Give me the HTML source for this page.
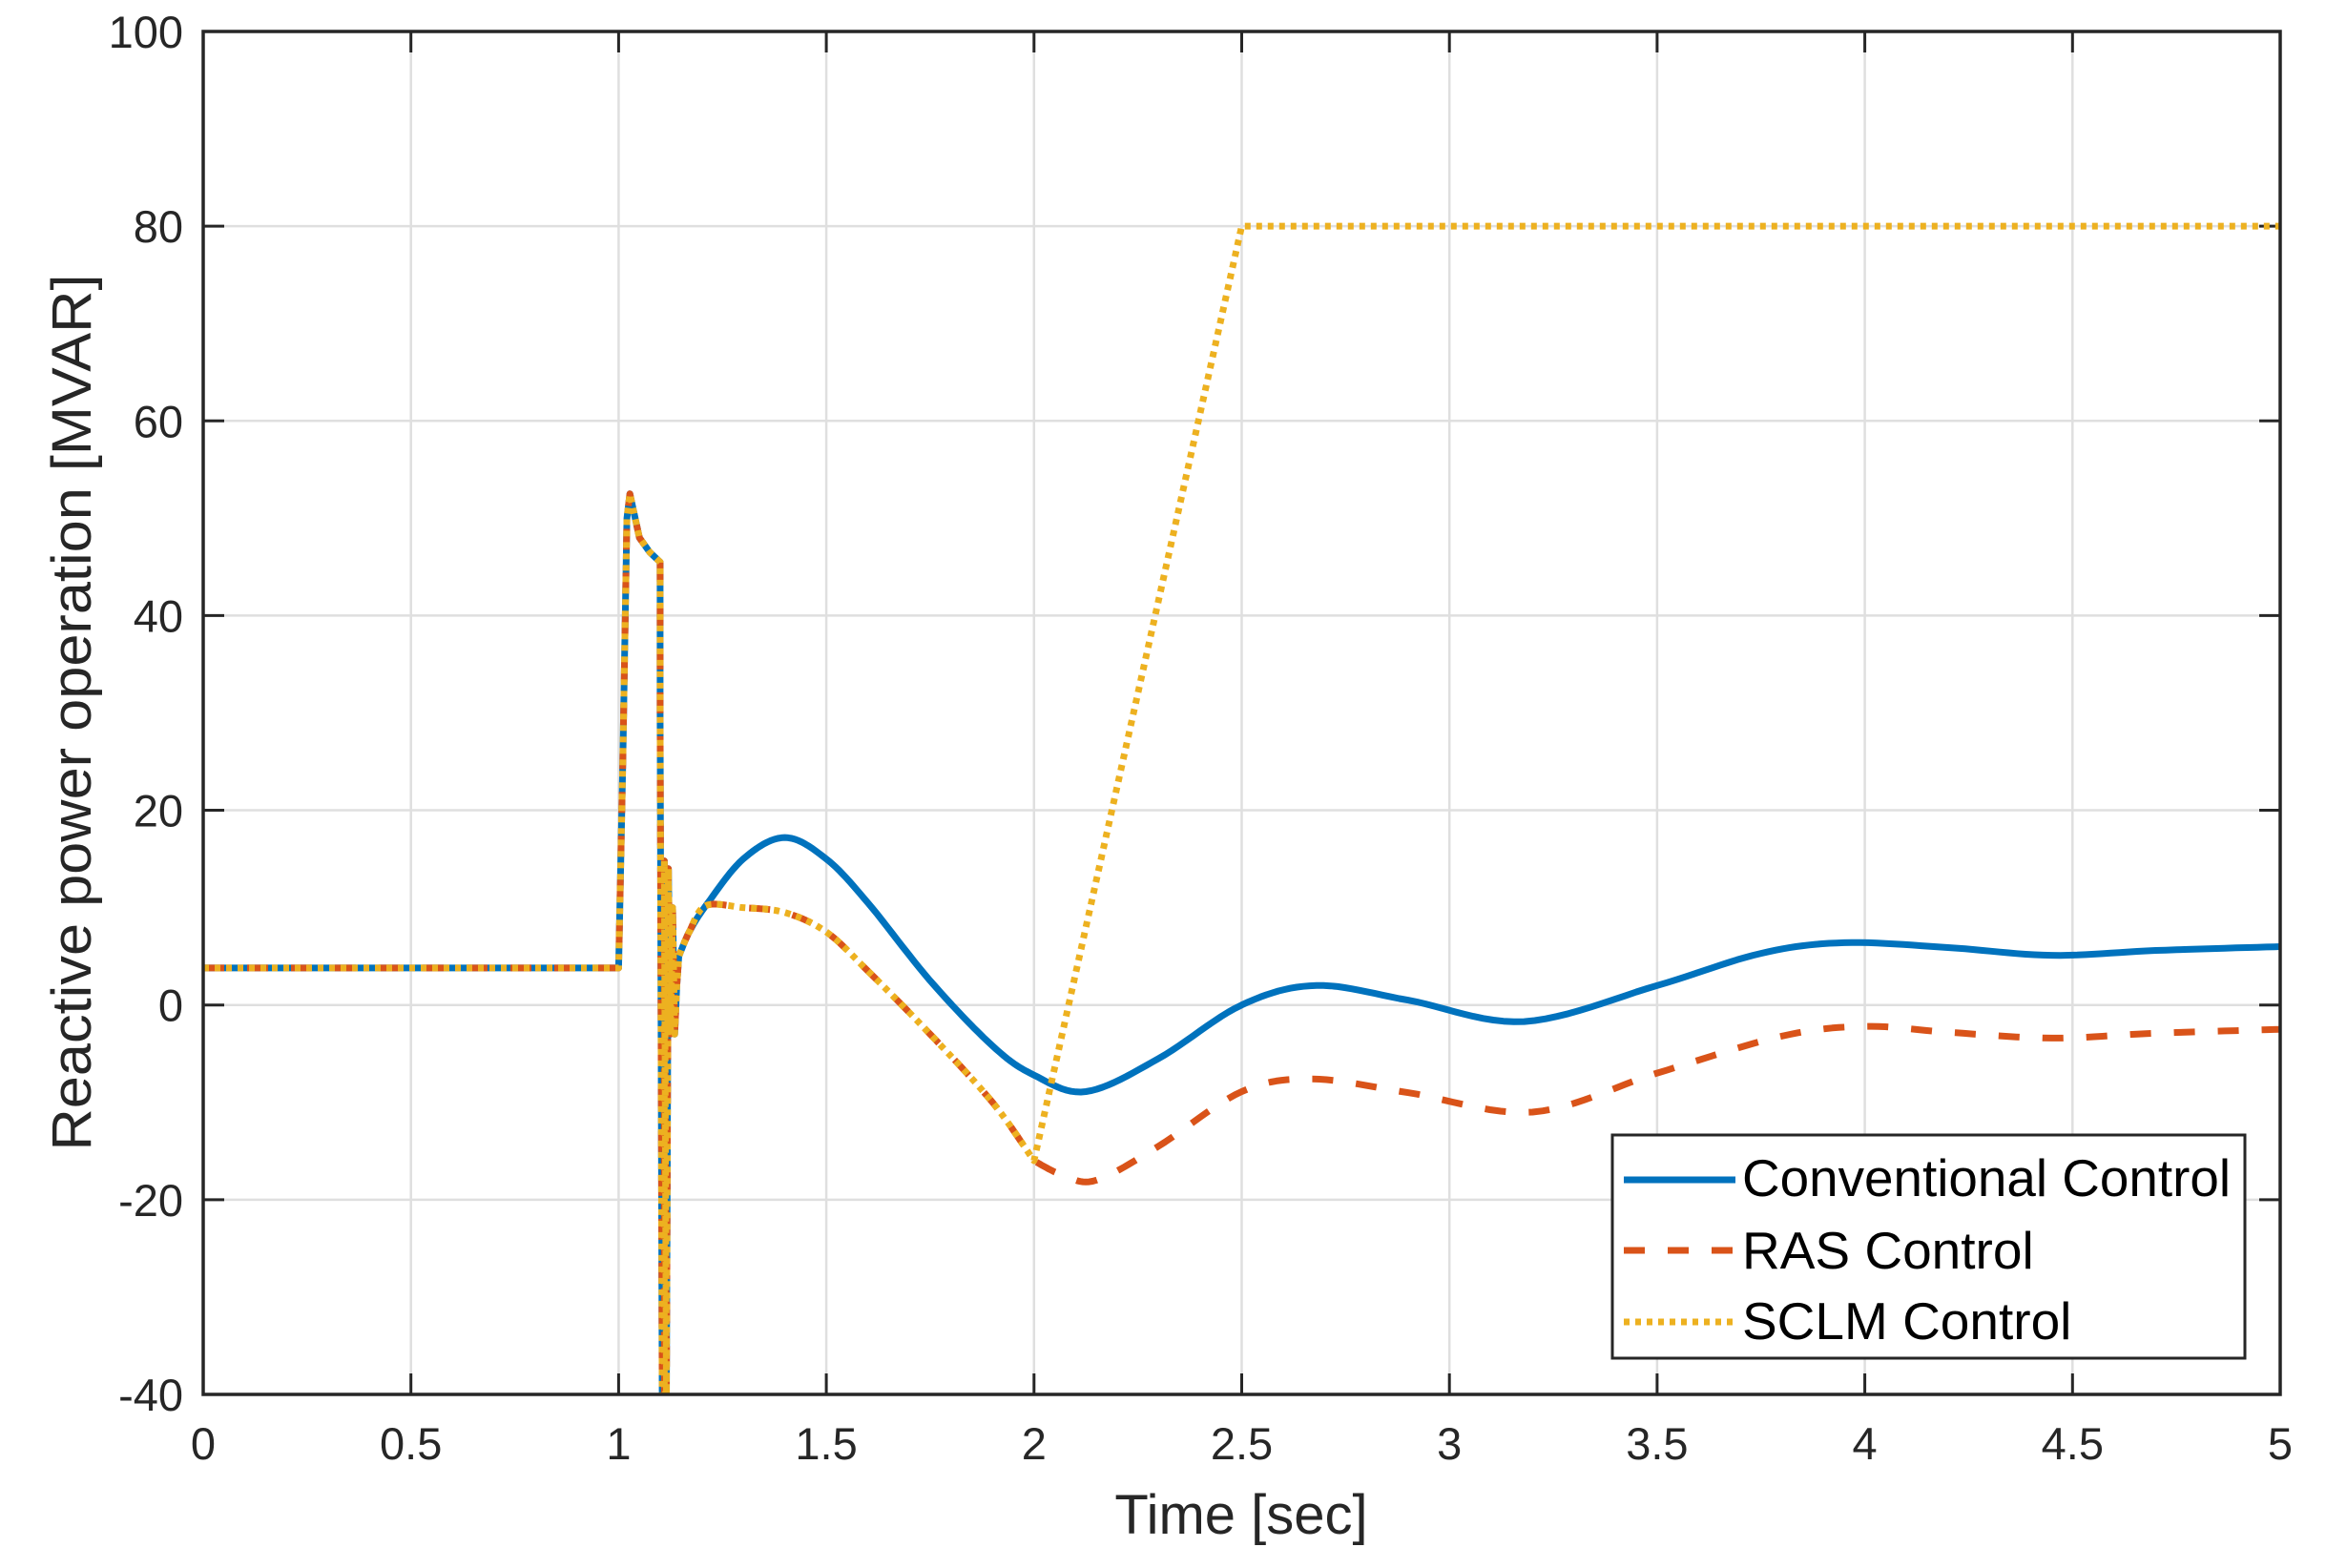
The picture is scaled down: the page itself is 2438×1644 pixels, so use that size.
<!DOCTYPE html>
<html><head><meta charset="utf-8"><style>
html,body{margin:0;padding:0;background:#fff;}
svg{display:block;}
text{font-family:"Liberation Sans",Arial,sans-serif;fill:#262626;}
</style></head><body>
<svg id="s" width="2438" height="1644" viewBox="0 0 2438 1644" xmlns="http://www.w3.org/2000/svg">
<defs><clipPath id="c"><rect x="213" y="33" width="2177" height="1429"/></clipPath></defs>
<rect width="2438" height="1644" fill="#fff"/>
<g id="grid" stroke="#dfdfdf" stroke-width="2.5"></g>
<g id="ticks" stroke="#262626" stroke-width="3"></g>
<g clip-path="url(#c)" fill="none" stroke-linejoin="round">
<path id="pb" stroke="#0072BD" stroke-width="7"/>
<path id="po" stroke="#D95319" stroke-width="7" stroke-dasharray="22 24"/>
<path id="py" stroke="#EDB120" stroke-width="7" stroke-dasharray="6 6"/>
</g>
<rect x="213" y="33" width="2177" height="1429" fill="none" stroke="#262626" stroke-width="3.5"/>
<g id="lab" font-size="47"></g>
<text x="1301" y="1608" font-size="58" text-anchor="middle">Time [sec]</text>
<text transform="translate(95,747) rotate(-90)" font-size="58" text-anchor="middle" textLength="919" lengthAdjust="spacingAndGlyphs">Reactive power operation [MVAR]</text>
<rect x="1690" y="1190" width="663" height="234" fill="#fff" stroke="#262626" stroke-width="3"/>
<line x1="1702" y1="1237" x2="1819" y2="1237" stroke="#0072BD" stroke-width="7"/>
<line x1="1702" y1="1311" x2="1819" y2="1311" stroke="#D95319" stroke-width="7" stroke-dasharray="22 24"/>
<line x1="1702" y1="1386" x2="1819" y2="1386" stroke="#EDB120" stroke-width="7" stroke-dasharray="6 6"/>
<text x="1826" y="1254" font-size="55" style="fill:#000" textLength="512" lengthAdjust="spacingAndGlyphs">Conventional Control</text>
<text x="1826" y="1330" font-size="55" style="fill:#000">RAS Control</text>
<text x="1826" y="1404" font-size="55" style="fill:#000">SCLM Control</text>
</svg>
<script>
var X=function(t){return 213+435.4*t;}, Y=function(v){return 33+(100-v)*10.207;};
var NS="http://www.w3.org/2000/svg";
function el(p,n,a,txt){var e=document.createElementNS(NS,n);for(var k in a)e.setAttribute(k,a[k]);if(txt!==undefined)e.textContent=txt;document.getElementById(p).appendChild(e);}
for(var i=1;i<10;i++){var x=X(i*0.5);el('grid','line',{x1:x,y1:33,x2:x,y2:1462});el('ticks','line',{x1:x,y1:1462,x2:x,y2:1440});el('ticks','line',{x1:x,y1:33,x2:x,y2:55});}
for(var v=-20;v<100;v+=20){var y=Y(v);el('grid','line',{x1:213,y1:y,x2:2390,y2:y});el('ticks','line',{x1:213,y1:y,x2:235,y2:y});el('ticks','line',{x1:2390,y1:y,x2:2368,y2:y});}
var xl=['0','0.5','1','1.5','2','2.5','3','3.5','4','4.5','5'];
for(var i=0;i<=10;i++)el('lab','text',{x:X(i*0.5),y:1530,'text-anchor':'middle'},xl[i]);
for(var v=-40;v<=100;v+=20)el('lab','text',{x:192,y:Y(v)+17,'text-anchor':'end'},String(v));
function cr(pts,n){var out=[];for(var i=0;i<pts.length-1;i++){var p0=pts[Math.max(0,i-1)],p1=pts[i],p2=pts[i+1],p3=pts[Math.min(pts.length-1,i+2)];
for(var k=0;k<n;k++){var s=k/n,s2=s*s,s3=s2*s;var f=function(a,b,c,d){return 0.5*((2*b)+(-a+c)*s+(2*a-5*b+4*c-d)*s2+(-a+3*b-3*c+d)*s3);};
out.push([f(p0[0],p1[0],p2[0],p3[0]),f(p0[1],p1[1],p2[1],p3[1])]);}}out.push(pts[pts.length-1]);return out;}
function path(a){return a.map(function(p,i){return (i?'L':'M')+X(p[0]).toFixed(1)+' '+Y(p[1]).toFixed(1);}).join(' ');}
var spike=[[0,3.8],[1.0,3.8],[1.01,25],[1.02,50],[1.027,52.5],[1.05,48],[1.075,46.5],[1.1,45.5],[1.1,30],[1.105,-40],[1.11,-40],[1.11,14.8],[1.115,-40],[1.12,14],[1.125,-3],[1.13,10],[1.135,-3],[1.14,2],[1.145,5]];
var blue=cr([[1.145,5],[1.17,7.5],[1.21,10.2],[1.3,15],[1.4,17.2],[1.5,15],[1.6,10.5],[1.75,2.5],[1.9,-4.2],[2.0,-7.2],[2.125,-8.9],[2.3,-5.5],[2.5,0],[2.68,2],[2.9,0.5],[3.18,-1.7],[3.5,2],[3.75,5.3],[3.95,6.4],[4.2,5.9],[4.45,5.1],[4.7,5.6],[5,6]],12);
var orngA=cr([[1.145,5],[1.17,7.5],[1.21,10.2],[1.3,10],[1.4,9.5],[1.5,7.5],[1.6,3.5],[1.75,-3],[1.9,-10],[2.0,-16]],12);
var orngB=cr([[2.0,-16],[2.07,-17.5],[2.15,-18],[2.3,-14.5],[2.5,-8.9],[2.67,-7.6],[2.9,-9],[3.2,-11],[3.5,-7],[3.8,-3.2],[4.0,-2.2],[4.2,-2.8],[4.45,-3.4],[4.7,-2.9],[5,-2.5]],12);
document.getElementById('pb').setAttribute('d',path(spike.concat(blue)));
document.getElementById('po').setAttribute('d',path(spike.concat(orngA).concat(orngB)));
document.getElementById('py').setAttribute('d',path(spike.concat(orngA).concat([[2.5,80],[5,80]])));
</script>
</body></html>
